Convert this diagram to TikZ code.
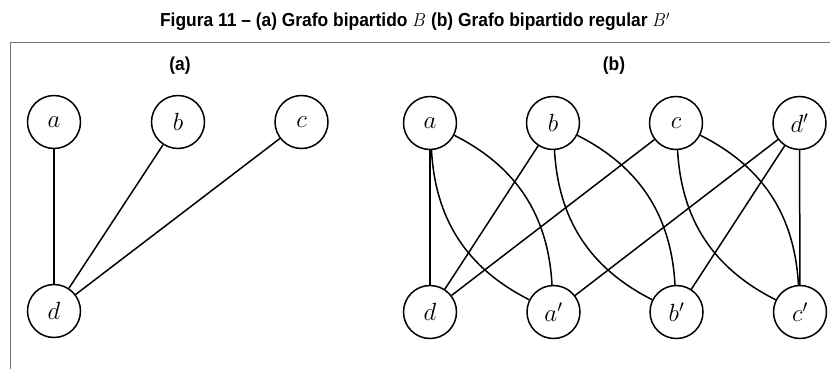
\documentclass[tikz,border=0pt]{standalone}
\usepackage{fontspec}
\usepackage{graphicx}
\setsansfont{Liberation Sans}
\begin{document}
\begin{tikzpicture}[x=1pt,y=-1pt,
  vertex/.style={draw, circle, line width=1.5pt, minimum size=53pt, inner sep=0pt,
    font=\fontsize{26}{28}\selectfont},
  edge/.style={line width=1.5pt},
  caption/.style={font=\sffamily\bfseries\fontsize{17.4}{20}\selectfont},
  frameline/.style={draw=black!55, line width=1pt}]
\useasboundingbox (0,0) rectangle (830,369);
% title
\node[caption] (title) at (415,22) {\scalebox{1}[1.08]{Figura 11 -- (a) Grafo bipartido $B$ (b) Grafo bipartido regular $B'$}};
% frame (top and left edges)
\draw[frameline] (830,43) -- (10.5,43) -- (10.5,369);
% panel labels
\node[caption] (la) at (180,66) {\scalebox{1}[1.08]{(a)}};
\node[caption] (lb) at (614,66) {\scalebox{1}[1.08]{(b)}};
% (a) bipartite graph B
\node[vertex] (a1) at (54,122) {$a$};
\node[vertex] (b1) at (178,122) {$b$};
\node[vertex] (c1) at (301.5,122) {$c$};
\node[vertex] (d1) at (54,311) {$d$};
\draw[edge] (a1) -- (d1);
\draw[edge] (b1) -- (d1);
\draw[edge] (c1) -- (d1);
% (b) regular bipartite graph B'
\node[vertex] (a2) at (430,123) {$a$};
\node[vertex] (b2) at (553,123) {$b$};
\node[vertex] (c2) at (676,123) {$c$};
\node[vertex] (dp) at (799.5,123) {$d'$};
\node[vertex] (d2) at (430,312) {$d$};
\node[vertex] (ap) at (553.5,312) {$a'$};
\node[vertex] (bp) at (676.5,312) {$b'$};
\node[vertex] (cp) at (800,312) {$c'$};
\draw[edge] (a2) -- (d2);
\draw[edge] (b2) -- (d2);
\draw[edge] (c2) -- (d2);
\draw[edge] (dp) -- (ap);
\draw[edge] (dp) -- (bp);
\draw[edge] (dp) -- (cp);
\draw[edge] (a2) to[bend left=30] (ap);
\draw[edge] (a2) to[bend right=30] (ap);
\draw[edge] (b2) to[bend left=30] (bp);
\draw[edge] (b2) to[bend right=30] (bp);
\draw[edge] (c2) to[bend left=30] (cp);
\draw[edge] (c2) to[bend right=30] (cp);
\end{tikzpicture}
\end{document}
